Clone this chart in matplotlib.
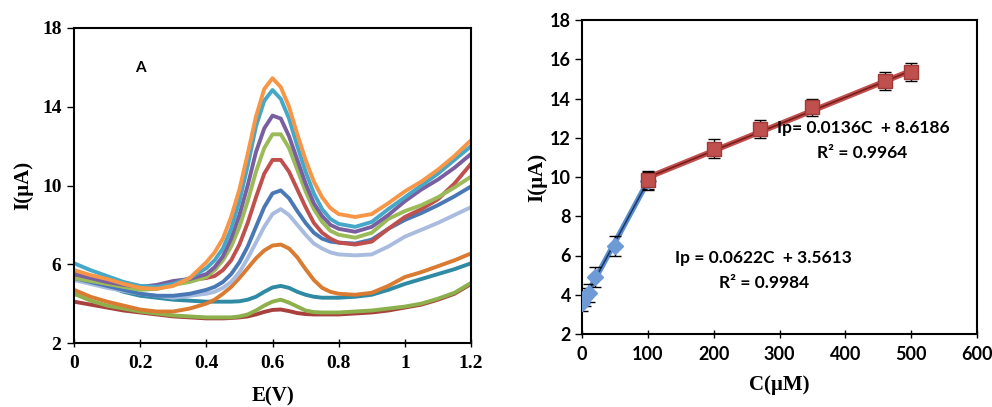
import numpy as np
import matplotlib
matplotlib.use("Agg")
import matplotlib.pyplot as plt

# ---- panel A: voltammograms ----
E = [0, 0.05, 0.1, 0.15, 0.2, 0.25, 0.3, 0.35,
     0.4, 0.425, 0.45, 0.475, 0.5, 0.525, 0.55, 0.575, 0.6, 0.625, 0.65,
     0.675, 0.7, 0.725, 0.75, 0.775, 0.8, 0.85, 0.9,
     0.95, 1.0, 1.05, 1.1, 1.15, 1.2]

red2 = [4.1, 3.95, 3.8, 3.65, 3.55, 3.45, 3.35, 3.3,
        3.25, 3.25, 3.25, 3.27, 3.3, 3.35, 3.45, 3.58, 3.68, 3.7, 3.62,
        3.52, 3.47, 3.45, 3.45, 3.45, 3.45, 3.5, 3.55,
        3.65, 3.8, 3.95, 4.2, 4.5, 5.0]
green2 = [4.5, 4.15, 3.9, 3.75, 3.6, 3.5, 3.4, 3.35,
          3.3, 3.3, 3.3, 3.3, 3.35, 3.45, 3.65, 3.9, 4.1, 4.2, 4.05,
          3.85, 3.65, 3.57, 3.55, 3.55, 3.55, 3.6, 3.65,
          3.75, 3.85, 4.0, 4.25, 4.55, 5.05]
teal = [5.6, 5.2, 4.9, 4.6, 4.4, 4.3, 4.2, 4.15,
        4.1, 4.1, 4.1, 4.1, 4.12, 4.2, 4.35, 4.6, 4.82, 4.9, 4.8,
        4.6, 4.45, 4.35, 4.3, 4.3, 4.3, 4.35, 4.45,
        4.7, 5.0, 5.25, 5.5, 5.75, 6.05]
orange2 = [4.7, 4.35, 4.1, 3.9, 3.7, 3.6, 3.6, 3.75,
           4.0, 4.2, 4.5, 4.85, 5.3, 5.8, 6.3, 6.7, 6.95, 7.0, 6.8,
           6.35, 5.75, 5.2, 4.8, 4.6, 4.5, 4.45, 4.55,
           4.9, 5.35, 5.6, 5.9, 6.2, 6.55]
lavender = [5.2, 5.0, 4.8, 4.65, 4.5, 4.4, 4.3, 4.4,
            4.5, 4.6, 4.8, 5.1, 5.6, 6.3, 7.1, 7.9, 8.55, 8.8, 8.5,
            8.0, 7.5, 7.05, 6.8, 6.6, 6.5, 6.45, 6.5,
            6.9, 7.4, 7.75, 8.1, 8.5, 8.9]
blue = [5.3, 5.1, 4.9, 4.7, 4.5, 4.4, 4.4, 4.5,
        4.7, 4.85, 5.1, 5.5, 6.1, 6.9, 7.9, 8.9, 9.6, 9.75, 9.35,
        8.7, 8.1, 7.6, 7.3, 7.15, 7.1, 7.05, 7.25,
        7.8, 8.25, 8.6, 9.0, 9.45, 9.95]
red = [5.4, 5.2, 5.0, 4.9, 4.8, 4.9, 5.1, 5.2,
       5.3, 5.4, 5.7, 6.2, 7.0, 8.1, 9.4, 10.6, 11.3, 11.3, 10.7,
       9.8, 8.9, 8.1, 7.6, 7.3, 7.1, 7.0, 7.15,
       7.8, 8.4, 8.8, 9.3, 10.1, 11.1]
green = [5.3, 5.15, 5.0, 4.85, 4.7, 4.75, 4.95, 5.1,
         5.35, 5.7, 6.2, 6.9, 7.9, 9.2, 10.7, 11.9, 12.6, 12.6, 11.9,
         10.8, 9.7, 8.8, 8.15, 7.7, 7.5, 7.35, 7.6,
         8.3, 8.7, 9.0, 9.4, 9.9, 10.45]
purple = [5.5, 5.3, 5.1, 4.95, 4.85, 4.95, 5.15, 5.25,
          5.5, 5.85, 6.4, 7.3, 8.5, 10.0, 11.7, 12.9, 13.55, 13.4, 12.5,
          11.3, 10.1, 9.1, 8.45, 8.0, 7.8, 7.65, 7.9,
          8.5, 9.2, 9.8, 10.3, 10.9, 11.6]
cyan = [6.05, 5.7, 5.4, 5.1, 4.9, 4.85, 5.0, 5.3,
        5.8, 6.2, 6.8, 7.8, 9.2, 11.0, 13.0, 14.3, 14.85, 14.4, 13.4,
        12.0, 10.7, 9.6, 8.8, 8.3, 8.05, 7.9, 8.15,
        8.8, 9.4, 10.0, 10.6, 11.3, 12.0]
orange1 = [5.7, 5.45, 5.25, 5.0, 4.8, 4.75, 4.9, 5.3,
           6.1, 6.6, 7.3, 8.4, 9.8, 11.6, 13.5, 14.9, 15.45, 15.0, 14.0,
           12.6, 11.3, 10.2, 9.4, 8.85, 8.55, 8.4, 8.55,
           9.1, 9.7, 10.2, 10.8, 11.5, 12.3]

curves = [red2, green2, teal, orange2, lavender, blue, red, green, purple, cyan, orange1]
colors = ["#A8403D", "#8DB04C", "#2F8AA3", "#D97B30", "#A9BCE0", "#4A78B5",
          "#C0504D", "#9BBB59", "#7A5FA0", "#45A8C8", "#F79646"]

# ---- panel B: calibration ----
conc_low = [0, 5, 10, 20, 50, 100]
ip_low = [3.6, 3.9, 4.1, 4.9, 6.5, 9.8]
err_low = [0.45, 0.45, 0.45, 0.5, 0.5, 0.45]
conc_high = [100, 200, 270, 350, 460, 500]
ip_high = [9.85, 11.45, 12.45, 13.55, 14.9, 15.35]
err_high = [0.45, 0.47, 0.45, 0.45, 0.45, 0.47]
fit_low = (0.0622, 3.5613)
fit_high = (0.0136, 8.6186)

fig = plt.figure(figsize=(9.92, 4.07), dpi=100)

serif = "Liberation Serif"
sans = "Lato"

# left panel
ax1 = fig.add_axes([74 / 992, 64 / 407, 397 / 992, 315 / 407])
for y, c in zip(curves, colors):
    ax1.plot(E, y, color=c, lw=2.8, solid_capstyle="round", solid_joinstyle="round")
ax1.set_xlim(0, 1.2)
ax1.set_ylim(2, 18)
ax1.set_xticks([0, 0.2, 0.4, 0.6, 0.8, 1.0, 1.2])
ax1.set_xticklabels(["0", "0.2", "0.4", "0.6", "0.8", "1", "1.2"])
ax1.set_yticks([2, 6, 10, 14, 18])
ax1.tick_params(axis="y", direction="out", length=5, width=1, pad=4)
ax1.tick_params(axis="x", direction="inout", length=6, width=1, pad=6)
for lab in ax1.get_xticklabels() + ax1.get_yticklabels():
    lab.set_fontfamily(serif)
    lab.set_fontweight("bold")
    lab.set_fontsize(14)
for s in ax1.spines.values():
    s.set_linewidth(1.5)
ax1.set_xlabel("E(V)", fontfamily=serif, fontweight="bold", fontsize=15, labelpad=10)
ax1.set_ylabel("I(µA)", fontfamily=serif, fontweight="bold", fontsize=15, labelpad=6)
ax1.text(0.155, 0.86, "A", transform=ax1.transAxes, fontfamily=sans,
         fontweight="bold", fontsize=11)

# right panel
ax2 = fig.add_axes([582 / 992, 73 / 407, 395 / 992, 314 / 407])
xl = np.array([conc_low[0], conc_low[-1]])
xh = np.array([conc_high[0], conc_high[-1]])
ax2.plot(xl, fit_low[0] * xl + fit_low[1], color="#5B8FD0", lw=4, zorder=2)
ax2.plot(xl, fit_low[0] * xl + fit_low[1], color="#1F3864", lw=1.2, zorder=3)
ax2.plot(xh, fit_high[0] * xh + fit_high[1], color="#C0504D", lw=4, zorder=2)
ax2.plot(xh, fit_high[0] * xh + fit_high[1], color="#7A1C1C", lw=1.2, zorder=3)
ax2.errorbar(conc_low, ip_low, yerr=err_low, fmt="D", ms=8, color="#6E9BD6",
             mec="#6E9BD6", ecolor="black", elinewidth=1, capsize=4, capthick=1, zorder=4)
ax2.errorbar(conc_high, ip_high, yerr=err_high, fmt="s", ms=10, color="#C0504D",
             mec="#A03A38", ecolor="black", elinewidth=1, capsize=4, capthick=1, zorder=4)
ax2.set_xlim(0, 600)
ax2.set_ylim(2, 18)
ax2.set_xticks(range(0, 601, 100))
ax2.set_yticks(range(2, 19, 2))
ax2.tick_params(axis="y", direction="out", length=5, width=1, pad=3)
ax2.tick_params(axis="x", direction="inout", length=6, width=1, pad=6)
for lab in ax2.get_xticklabels() + ax2.get_yticklabels():
    lab.set_fontfamily(sans)
    lab.set_fontweight("bold")
    lab.set_fontsize(13)
for s in ax2.spines.values():
    s.set_linewidth(1.5)
ax2.set_xlabel("C(µM)", fontfamily=serif, fontweight="bold", fontsize=15, labelpad=8)
ax2.set_ylabel("I(µA)", fontfamily=serif, fontweight="bold", fontsize=15, labelpad=2)

ax2.text(296, 12.5, "Ip= 0.0136C  + 8.6186", fontfamily=sans, fontweight="bold",
         fontsize=12.5, ha="left", va="center")
ax2.text(425, 11.2, "R² = 0.9964", fontfamily=sans, fontweight="bold",
         fontsize=12.5, ha="center", va="center")
ax2.text(275, 5.85, "Ip = 0.0622C  + 3.5613", fontfamily=sans, fontweight="bold",
         fontsize=12.5, ha="center", va="center")
ax2.text(277, 4.6, "R² = 0.9984", fontfamily=sans, fontweight="bold",
         fontsize=12.5, ha="center", va="center")

fig.savefig("out.png", dpi=100)
